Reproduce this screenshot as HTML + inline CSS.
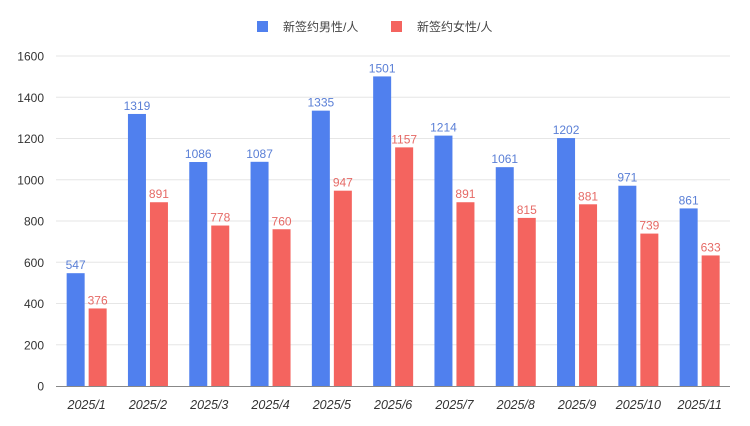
<!DOCTYPE html><html><head><meta charset="utf-8"><style>body{margin:0;background:#fff}</style></head><body>
<svg width="750" height="421" xmlns="http://www.w3.org/2000/svg" font-family="'Liberation Sans','Noto Sans CJK SC',sans-serif">
<rect x="257" y="21" width="11" height="11" fill="#5080ee"/>
<text x="283" y="31" font-size="12" fill="#444">新签约男性/人</text>
<rect x="391" y="21" width="11" height="11" fill="#f4645f"/>
<text x="417" y="31" font-size="12" fill="#444">新签约女性/人</text>
<g id="g"></g>
</svg>
<script>
const male=[547,1319,1086,1087,1335,1501,1214,1061,1202,971,861],fem=[376,891,778,760,947,1157,891,815,881,739,633];
const g=document.getElementById('g');let s='';
const Y=v=>386-v*330/1600;
for(let i=0;i<=8;i++){const v=i*200,y=Y(v);if(i>0)s+=`<line x1="56" x2="730" y1="${y}" y2="${y}" stroke="#e6e6e6"/>`;s+=`<text x="44" y="${y+4.5}" font-size="12" fill="#333" text-anchor="end">${v}</text>`;}
const bw=61.3;
for(let i=0;i<11;i++){const c=56+bw*(i+.5);
s+=`<rect x="${c-20}" y="${Y(male[i])}" width="18" height="${386-Y(male[i])}" fill="#5080ee"/>`;
s+=`<rect x="${c+2}" y="${Y(fem[i])}" width="18" height="${386-Y(fem[i])}" fill="#f4645f"/>`;
s+=`<text x="${c-11}" y="${Y(male[i])-4}" font-size="12" fill="#5a7fd6" text-anchor="middle">${male[i]}</text>`;
s+=`<text x="${c+11}" y="${Y(fem[i])-4}" font-size="12" fill="#e66a66" text-anchor="middle">${fem[i]}</text>`;
s+=`<text x="${c}" y="409" font-size="12.5" font-style="italic" fill="#333" text-anchor="middle">2025/${i+1}</text>`;}
s+=`<line x1="56" x2="730" y1="386.5" y2="386.5" stroke="#888"/>`;
g.innerHTML=s;
</script></body></html>
